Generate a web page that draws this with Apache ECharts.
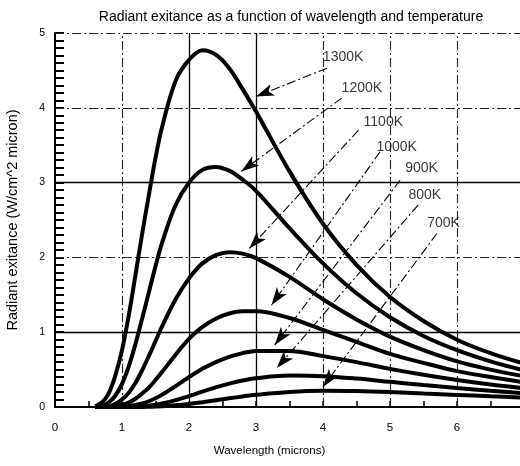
<!DOCTYPE html>
<html>
<head>
<meta charset="utf-8">
<script src="https://cdn.jsdelivr.net/npm/echarts@6/dist/echarts.min.js"></script>
<style>
  html, body { margin: 0; padding: 0; background: #fff; }
  #chart { width: 520px; height: 466px; }
</style>
</head>
<body>
<div id="chart"></div>
<script>
// wavelength samples (microns)
const wavelengths = [0.6, 0.7, 0.8, 0.9, 1.0, 1.1, 1.2, 1.3, 1.4, 1.5, 1.6, 1.8, 2.0, 2.2, 2.4, 2.6, 2.8, 3.0, 3.5, 4.0, 4.5, 5.0, 5.5, 6.0, 6.5, 7.0]

// radiant exitance (W/cm^2 micron)
const m1300 = [0.01, 0.06, 0.18, 0.42, 0.76, 1.22, 1.76, 2.31, 2.83, 3.33, 3.75, 4.36, 4.64, 4.77, 4.71, 4.53, 4.25, 3.95, 3.15, 2.45, 1.90, 1.47, 1.15, 0.90, 0.72, 0.58]
const m1200 = [0, 0.01, 0.06, 0.15, 0.31, 0.54, 0.84, 1.18, 1.53, 1.88, 2.20, 2.70, 3.00, 3.17, 3.21, 3.16, 3.04, 2.89, 2.39, 1.92, 1.52, 1.20, 0.95, 0.76, 0.61, 0.49]
const m1100 = [0, 0, 0.01, 0.04, 0.10, 0.19, 0.32, 0.49, 0.68, 0.88, 1.08, 1.44, 1.72, 1.92, 2.03, 2.07, 2.05, 1.99, 1.74, 1.44, 1.17, 0.94, 0.76, 0.61, 0.50, 0.41]
const m1000 = [0, 0, 0, 0.01, 0.03, 0.06, 0.11, 0.18, 0.26, 0.36, 0.47, 0.70, 0.91, 1.07, 1.18, 1.25, 1.28, 1.28, 1.19, 1.03, 0.87, 0.71, 0.59, 0.48, 0.40, 0.33]
const m900 = [0, 0, 0, 0, 0.005, 0.012, 0.026, 0.047, 0.077, 0.117, 0.165, 0.28, 0.40, 0.51, 0.60, 0.67, 0.72, 0.75, 0.75, 0.68, 0.60, 0.51, 0.43, 0.36, 0.30, 0.25]
const m800 = [0, 0, 0, 0, 0, 0.002, 0.005, 0.010, 0.018, 0.031, 0.047, 0.091, 0.145, 0.205, 0.262, 0.312, 0.354, 0.384, 0.420, 0.412, 0.380, 0.337, 0.294, 0.253, 0.216, 0.185]
const m700 = [0, 0, 0, 0, 0, 0, 0.001, 0.001, 0.003, 0.006, 0.009, 0.022, 0.040, 0.064, 0.090, 0.116, 0.141, 0.163, 0.201, 0.216, 0.213, 0.200, 0.181, 0.162, 0.143, 0.125]

const curves = [m1300, m1200, m1100, m1000, m900, m800, m700]
const tempLabels = ['1300K', '1200K', '1100K', '1000K', '900K', '800K', '700K']

// where each label sits, and its leader line (from -> arrow tip)
const labelAt = [[4.30, 4.68], [4.58, 4.26], [4.90, 3.81], [5.10, 3.48], [5.47, 3.19], [5.52, 2.83], [5.80, 2.46]]
const leaderFrom = [[4.06, 4.53], [4.28, 4.13], [4.53, 3.70], [4.85, 3.41], [5.15, 3.03], [5.42, 2.70], [5.70, 2.32]]
const leaderTo = [[3.00, 4.15], [2.78, 3.15], [2.90, 2.12], [3.23, 1.36], [3.28, 0.83], [3.31, 0.52], [4.00, 0.27]]

// grid lines, solid ones and dash-dot ones
const solidX = [2, 3]
const dashX = [1, 4, 5, 6]
const solidY = [1, 3]
const dashY = [2, 4, 5]

const font = 'Liberation Sans, Arial, Helvetica, sans-serif'
const dashDot = [9, 3, 2, 3]

const chart = echarts.init(document.getElementById('chart'))

let series = []
curves.forEach((values, i) => {
  series.push({
    name: tempLabels[i],
    type: 'line',
    smooth: 0.35,
    showSymbol: false,
    z: 5,
    lineStyle: { color: '#000', width: 4 },
    data: wavelengths.map((w, j) => [w, values[j]])
  })
})

// grid lines drawn as mark lines so each one can have its own style
series.push({
  type: 'line',
  data: [],
  z: 1,
  markLine: {
    silent: true,
    symbol: 'none',
    label: { show: false },
    lineStyle: { color: '#000', width: 1.3, type: 'solid' },
    data: solidX.map(v => ({ xAxis: v })).concat(solidY.map(v => ({ yAxis: v })))
  }
})
series.push({
  type: 'line',
  data: [],
  z: 1,
  markLine: {
    silent: true,
    symbol: 'none',
    label: { show: false },
    lineStyle: { color: '#222', width: 1.1, type: dashDot },
    data: dashX.map(v => ({ xAxis: v })).concat(dashY.map(v => ({ yAxis: v })))
  }
})

// leader lines with arrow heads
series.push({
  type: 'line',
  data: [],
  z: 3,
  markLine: {
    silent: true,
    symbol: ['none', 'arrow'],
    symbolSize: [9, 18],
    label: { show: false },
    lineStyle: { color: '#000', width: 1.1, type: dashDot },
    data: leaderFrom.map((p, i) => [{ coord: p }, { coord: leaderTo[i] }])
  }
})

// temperature labels
series.push({
  type: 'scatter',
  symbolSize: 0,
  z: 6,
  label: {
    show: true,
    position: 'inside',
    formatter: p => p.name,
    color: '#000',
    fontFamily: font,
    fontSize: 14
  },
  data: labelAt.map((p, i) => ({ name: tempLabels[i], value: p }))
})

chart.setOption({
  animation: false,
  backgroundColor: '#fff',
  title: {
    text: 'Radiant exitance as a function of wavelength and temperature',
    left: 286,
    top: 5,
    textAlign: 'center',
    textStyle: { fontFamily: font, fontSize: 14, fontWeight: 'normal', color: '#000' }
  },
  grid: {
    left: 55,
    right: -4,
    top: 33,
    bottom: 59,
    containLabel: false,
    outerBoundsMode: 'none'
  },
  xAxis: {
    type: 'value',
    min: 0,
    max: 7,
    interval: 1,
    name: 'Wavelength (microns)',
    nameLocation: 'middle',
    nameGap: 38,
    nameTextStyle: { fontFamily: font, fontSize: 11.5, color: '#000', padding: [0, 40, 0, 0] },
    axisLine: { lineStyle: { color: '#000', width: 2 } },
    axisTick: { inside: true, length: 6, lineStyle: { color: '#000', width: 1.5 } },
    minorTick: { show: true, splitNumber: 2, length: 6, lineStyle: { color: '#000', width: 1.5 } },
    axisLabel: { fontFamily: font, fontSize: 11.5, color: '#000', margin: 15 },
    splitLine: { show: false }
  },
  yAxis: {
    type: 'value',
    min: 0,
    max: 5,
    interval: 1,
    name: 'Radiant exitance (W/cm^2 micron)',
    nameLocation: 'middle',
    nameGap: 35,
    nameTextStyle: { fontFamily: font, fontSize: 14.5, color: '#000' },
    axisLine: { lineStyle: { color: '#000', width: 2 } },
    axisTick: { inside: true, length: 9, lineStyle: { color: '#000', width: 2 } },
    minorTick: { show: true, splitNumber: 10, length: 9, lineStyle: { color: '#000', width: 2 } },
    axisLabel: { fontFamily: font, fontSize: 10.5, color: '#000', margin: 10 },
    splitLine: { show: false }
  },
  series: series
})
</script>
</body>
</html>
